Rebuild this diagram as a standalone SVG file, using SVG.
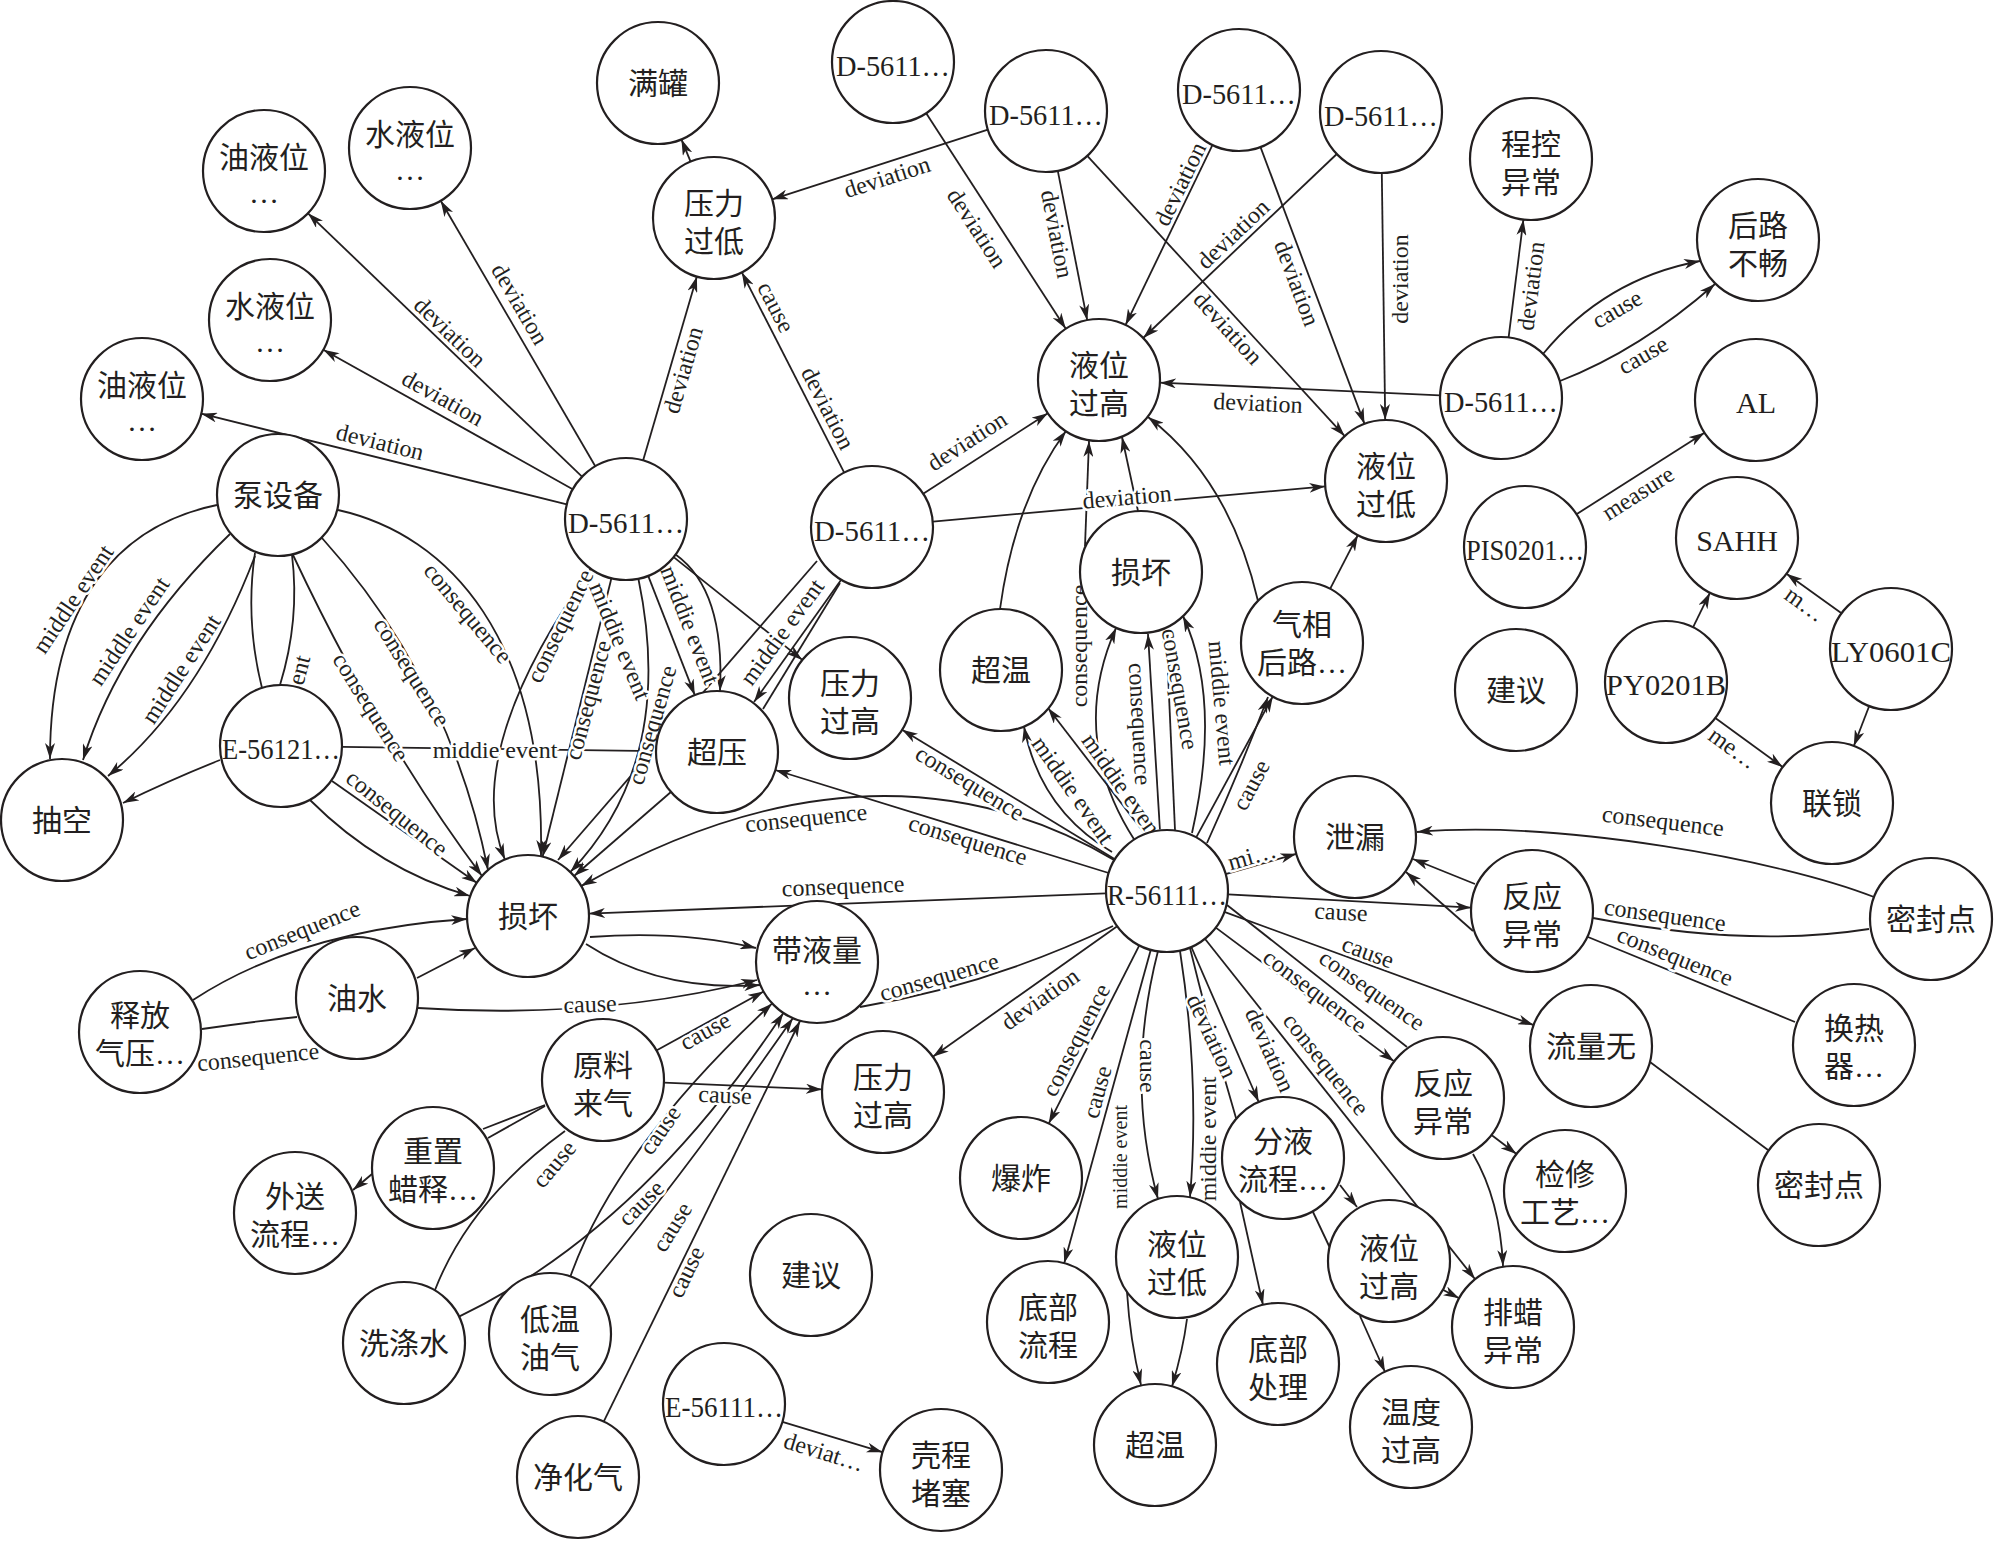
<svg xmlns="http://www.w3.org/2000/svg" width="1994" height="1541" viewBox="0 0 1994 1541">
<style>
.n circle{fill:#fff;stroke:#231f20;stroke-width:2.2}
.n text{font-family:"Liberation Serif","Noto Sans CJK SC",serif;font-size:30px;fill:#231f20;text-anchor:middle;dominant-baseline:central}
#edges path{fill:none;stroke:#231f20;stroke-width:1.8}
#edges path.a{marker-end:url(#arr)}
#labels text{font-family:"Liberation Serif",serif;font-size:24px;fill:#231f20;text-anchor:middle;dominant-baseline:central;stroke:#fff;stroke-width:5px;paint-order:stroke;stroke-linejoin:round}
#labels text.s{font-size:20px}
</style>
<defs>
<marker id="arr" viewBox="0 0 16 10" refX="16" refY="5" markerWidth="16" markerHeight="10" orient="auto" markerUnits="userSpaceOnUse"><path d="M0,0 L16,5 L0,10 L4.5,5 Z" fill="#231f20"/></marker>
</defs>
<rect width="1994" height="1541" fill="#fff"/>
<g id="edges">
<path class="a" d="M582,476.7 L308,213.3"/>
<path class="a" d="M595.3,466.3 L440.7,200.7"/>
<path class="a" d="M572.7,489.2 L323.3,349.8"/>
<path class="a" d="M566.8,504.3 L201.2,413.7"/>
<path class="a" d="M643.1,460.5 L696.9,276.5"/>
<path class="a" d="M673.7,557.1 L802.3,659.9"/>
<path class="a" d="M648.2,575.8 L694.8,695.2"/>
<path class="a" d="M675.6,554.6 Q725,590 720,691.1"/>
<path class="a" d="M590.7,568.8 Q461,752 504.9,859.6"/>
<path class="a" d="M611.4,578.2 L542.6,856.8"/>
<path class="a" d="M638.4,578.7 Q676.5,761.5 570.3,872"/>
<path class="a" d="M817,561 L558,860"/>
<path class="a" d="M841,580 L754,702"/>
<path d="M763,709 L840,583"/>
<path class="a" d="M844.2,472.7 L741.8,272.3"/>
<path class="a" d="M923.2,493.8 L1047.8,413.2"/>
<path class="a" d="M932.8,521.6 L1325.2,486.4"/>
<path class="a" d="M670.9,792 L574.1,876"/>
<path class="a" d="M342,746.8 L656,751.2"/>
<path class="a" d="M217,505 C120,525 50,600 50,759"/>
<path class="a" d="M230,534 Q120,640 83,760"/>
<path class="a" d="M255,556 Q200,700 108,776"/>
<path class="a" d="M220,760 Q170,780 123,803"/>
<path d="M255,553 Q245,620 262,688"/>
<path d="M292,555 Q300,620 280,685"/>
<path class="a" d="M338,510 C450,535 545,640 541,856"/>
<path class="a" d="M322,538 Q450,680 488,870"/>
<path class="a" d="M293,555 Q380,740 482,876"/>
<path class="a" d="M332,781 L477,883"/>
<path class="a" d="M310,800 Q380,870 470,896"/>
<path class="a" d="M193,1000 Q300,930 467,919"/>
<path d="M202,1029 Q250,1022 297,1017"/>
<path class="a" d="M417,978 L475,948"/>
<path class="a" d="M418,1008 Q600,1020 757,980"/>
<path class="a" d="M590,937 Q680,930 756,948"/>
<path class="a" d="M586,944 Q660,992 760,985"/>
<path class="a" d="M1106,893.4 L589,913.6"/>
<path class="a" d="M1114.4,860.1 Q876,720 581.1,886.1"/>
<path class="a" d="M1108.7,873 L775.3,770"/>
<path class="a" d="M1114.9,859.3 L902.1,729.7"/>
<path d="M1113,926 Q990,985 860,1007"/>
<path class="a" d="M1117.2,926.3 L932.8,1056.7"/>
<path class="a" d="M1139.3,945.4 L1048.7,1123.6"/>
<path class="a" d="M1150.8,949.8 L1064.2,1263.2"/>
<path class="a" d="M1158,951 Q1125,1080 1158,1199"/>
<path class="a" d="M1180,951 Q1200,1080 1190,1197"/>
<path d="M1190,948 Q1210,1030 1236,1118"/>
<path class="a" d="M1191.3,947 L1258.7,1102"/>
<path class="a" d="M1215.8,927.6 L1394.2,1061.4"/>
<path d="M1227,905 L1407,1047"/>
<path class="a" d="M1204.9,938.8 L1475.1,1279.2"/>
<path class="a" d="M1224.3,911.9 L1533.7,1025.1"/>
<path class="a" d="M1227.9,894.3 L1471.1,907.7"/>
<path class="a" d="M1225.6,874.2 L1296.4,853.8"/>
<path class="a" d="M1196.2,837.4 L1272.8,696.4"/>
<path class="a" d="M1207,843 Q1240,770 1268,697"/>
<path class="a" d="M1330.1,588.9 L1357.9,535.1"/>
<path class="a" d="M1134.2,839.6 Q1068,736 1116.2,627.7"/>
<path class="a" d="M1160,831 L1148,634"/>
<path class="a" d="M1175,830 L1166,628"/>
<path class="a" d="M1192,833 Q1222,700 1183,616"/>
<path class="a" d="M1112,852 Q1040,810 1024,726.5"/>
<path class="a" d="M1145,834 L1048,708"/>
<path class="a" d="M1000,609 Q1015,500 1066,431"/>
<path class="a" d="M1085,546 L1089,441"/>
<path class="a" d="M1138,511 L1122,437"/>
<path class="a" d="M1258,601 Q1230,480 1148,417"/>
<path class="a" d="M926.2,113.2 L1065.8,328.8"/>
<path class="a" d="M987.9,129.7 L772.1,199.3"/>
<path class="a" d="M1057.8,170.8 L1087.2,320.2"/>
<path class="a" d="M1087.3,155.9 L1344.7,436.1"/>
<path class="a" d="M1212.5,144.9 L1125.5,325.1"/>
<path class="a" d="M1260.5,147.1 L1364.5,423.9"/>
<path class="a" d="M1336.8,154 L1143.2,338"/>
<path class="a" d="M1381.8,173 L1385.2,420"/>
<path class="a" d="M1440,395.3 L1160,382.7"/>
<path class="a" d="M1508.6,337.5 L1523.4,219.5"/>
<path class="a" d="M1543,354 Q1604.5,279 1700,261"/>
<path class="a" d="M1560,381 Q1640,350 1715,284"/>
<path class="a" d="M1576.5,514.2 L1704.5,432.8"/>
<path class="a" d="M1693,627.3 L1710,592.7"/>
<path class="a" d="M1841.5,613.3 L1786.5,573.7"/>
<path class="a" d="M1869.2,706 L1853.8,746"/>
<path class="a" d="M1715.3,717.9 L1782.7,767.1"/>
<path class="a" d="M1874,897 C1780,860 1560,820 1417,832"/>
<path class="a" d="M1475,884 L1413,859"/>
<path class="a" d="M1473,931 L1406,872"/>
<path d="M1593,918 Q1749,948 1869,929"/>
<path d="M1588,937 L1795,1022"/>
<path d="M1650,1062 L1768,1150"/>
<path class="a" d="M1491.5,1135 L1516.5,1154"/>
<path class="a" d="M1473,1154 Q1500,1200 1503,1266"/>
<path class="a" d="M1442.8,1289.7 L1459.2,1298.3"/>
<path class="a" d="M1360,1316 L1385,1372"/>
<path class="a" d="M1340,1185 L1357,1207"/>
<path d="M1313,1212 L1330,1248"/>
<path class="a" d="M1240,1202 L1263,1305"/>
<path class="a" d="M1127,1292 Q1130,1340 1141,1385"/>
<path class="a" d="M1187,1319 Q1183,1350 1172,1386.5"/>
<path class="a" d="M656.4,1050.5 L763.6,991.5"/>
<path class="a" d="M664,1082.6 L822,1089.4"/>
<path d="M483,1129 L545,1105"/>
<path d="M488,1138 L545,1106"/>
<path class="a" d="M372,1174 L353,1190"/>
<path d="M435,1290 Q470,1200 565,1131"/>
<path class="a" d="M459,1316.6 Q640,1230 783.4,1012.9"/>
<path class="a" d="M570.4,1276.5 Q616,1148 772.2,1003.4"/>
<path class="a" d="M589.3,1287.4 Q680,1180 793,1018"/>
<path class="a" d="M603.7,1421.7 L800,1021"/>
<path class="a" d="M782.4,1421.8 L882.6,1452.2"/>
<path class="a" d="M690.6,161.7 L681.4,139.3"/>
</g>
<g id="labels">
<text transform="translate(450,332) rotate(43.9)">deviation</text>
<text transform="translate(520,304) rotate(59.8)">deviation</text>
<text transform="translate(443,398) rotate(29.2)">deviation</text>
<text transform="translate(380,442) rotate(13.9)">deviation</text>
<text transform="translate(683,370) rotate(-73.7)">deviation</text>
<text transform="translate(690,625) rotate(68.7)">middie event</text>
<text transform="translate(560,626) rotate(-64)">consequence</text>
<text transform="translate(588,700) rotate(-75)">consequence</text>
<text transform="translate(620,641) rotate(67.5)">middie event</text>
<text transform="translate(652,725) rotate(-74)">consequence</text>
<text transform="translate(782,632) rotate(-54)">middie event</text>
<text transform="translate(776,307) rotate(62.9)">cause</text>
<text transform="translate(828,408) rotate(62.9)">deviation</text>
<text transform="translate(967,441) rotate(-32.9)">deviation</text>
<text transform="translate(1127,497) rotate(-5)">deviation</text>
<text transform="translate(495,750)">middie event</text>
<text transform="translate(73,599) rotate(-56)">middle event</text>
<text transform="translate(129,631) rotate(-56)">middle event</text>
<text transform="translate(181,669) rotate(-57)">middle event</text>
<text transform="translate(299,670) rotate(-75)">ent</text>
<text transform="translate(468,613) rotate(50)">consequence</text>
<text transform="translate(412,672) rotate(58)">consequence</text>
<text transform="translate(371,707) rotate(58)">consequence</text>
<text transform="translate(397,813) rotate(38.9)">consequence</text>
<text transform="translate(302,930) rotate(-22)">consequence</text>
<text transform="translate(258,1057) rotate(-6)">consequence</text>
<text transform="translate(590,1004) rotate(-2)">cause</text>
<text transform="translate(843,886) rotate(-2.3)">consequence</text>
<text transform="translate(806,818) rotate(-6)">consequence</text>
<text transform="translate(968,840) rotate(17.2)">consequence</text>
<text transform="translate(970,783) rotate(31.3)">consequence</text>
<text transform="translate(939,977) rotate(-16)">consequence</text>
<text transform="translate(1040,999) rotate(-35.3)">deviation</text>
<text transform="translate(1076,1040) rotate(-63)">consequence</text>
<text transform="translate(1097,1092) rotate(-74.6)">cause</text>
<text class="s" transform="translate(1120,1157) rotate(-90)">middie event</text>
<text transform="translate(1148,1066) rotate(90)">cause</text>
<text transform="translate(1208,1139) rotate(-90)">middie event</text>
<text transform="translate(1212,1036) rotate(65)">deviation</text>
<text transform="translate(1270,1050) rotate(66)">deviation</text>
<text transform="translate(1315,991) rotate(36.9)">consequence</text>
<text transform="translate(1372,990) rotate(35)">consequence</text>
<text transform="translate(1326,1064) rotate(51.6)">consequence</text>
<text transform="translate(1368,952) rotate(20.1)">cause</text>
<text transform="translate(1341,912) rotate(3.1)">cause</text>
<text transform="translate(1252,856) rotate(-16)">mi…</text>
<text transform="translate(1251,785) rotate(-62)">cause</text>
<text transform="translate(1079,646) rotate(-90)">consequence</text>
<text transform="translate(1140,724) rotate(87)">consequence</text>
<text transform="translate(1180,689) rotate(80)">consequence</text>
<text transform="translate(1222,703) rotate(85)">middie event</text>
<text transform="translate(1073,790) rotate(55)">middie event</text>
<text transform="translate(1123,787) rotate(55)">middie event</text>
<text transform="translate(977,228) rotate(57)">deviation</text>
<text transform="translate(887,177) rotate(-17.9)">deviation</text>
<text transform="translate(1057,234) rotate(79)">deviation</text>
<text transform="translate(1228,328) rotate(47.4)">deviation</text>
<text transform="translate(1180,184) rotate(-64.2)">deviation</text>
<text transform="translate(1297,283) rotate(69.4)">deviation</text>
<text transform="translate(1233,234) rotate(-43.5)">deviation</text>
<text transform="translate(1400,279) rotate(-90)">deviation</text>
<text transform="translate(1258,403) rotate(2.6)">deviation</text>
<text transform="translate(1531,286) rotate(-82.8)">deviation</text>
<text transform="translate(1617,309) rotate(-30)">cause</text>
<text transform="translate(1643,355) rotate(-30)">cause</text>
<text transform="translate(1638,493) rotate(-32.5)">measure</text>
<text transform="translate(1805,604) rotate(35.8)">m…</text>
<text transform="translate(1733,748) rotate(36)">me…</text>
<text transform="translate(1663,821) rotate(7)">consequence</text>
<text transform="translate(1665,915) rotate(8)">consequence</text>
<text transform="translate(1675,956) rotate(22)">consequence</text>
<text transform="translate(705,1031) rotate(-28.9)">cause</text>
<text transform="translate(725,1095) rotate(2.5)">cause</text>
<text transform="translate(554,1164) rotate(-50)">cause</text>
<text transform="translate(641,1203) rotate(-45)">cause</text>
<text transform="translate(660,1130) rotate(-55)">cause</text>
<text transform="translate(672,1227) rotate(-58)">cause</text>
<text transform="translate(686,1272) rotate(-64)">cause</text>
<text transform="translate(824,1452) rotate(17)">deviat…</text>
</g>
<g id="n-oil1" class="n" transform="translate(264,171)"><circle r="61"/><text y="-14">油液位</text><text y="21">…</text></g>
<g id="n-water1" class="n" transform="translate(410,148)"><circle r="61"/><text y="-14">水液位</text><text y="21">…</text></g>
<g id="n-water2" class="n" transform="translate(270,320)"><circle r="61"/><text y="-14">水液位</text><text y="21">…</text></g>
<g id="n-oil2" class="n" transform="translate(142,399)"><circle r="61"/><text y="-14">油液位</text><text y="21">…</text></g>
<g id="n-pump" class="n" transform="translate(278,495)"><circle r="61"/><text>泵设备</text></g>
<g id="n-full" class="n" transform="translate(658,83)"><circle r="61"/><text>满罐</text></g>
<g id="n-plow" class="n" transform="translate(714,218)"><circle r="61"/><text y="-15">压力</text><text y="23">过低</text></g>
<g id="n-d5611a" class="n" transform="translate(893,62)"><circle r="61"/><text y="3" textLength="114" lengthAdjust="spacingAndGlyphs">D-5611…</text></g>
<g id="n-d5611b" class="n" transform="translate(1046,111)"><circle r="61"/><text y="3" textLength="114" lengthAdjust="spacingAndGlyphs">D-5611…</text></g>
<g id="n-d5611c" class="n" transform="translate(1239,90)"><circle r="61"/><text y="3" textLength="114" lengthAdjust="spacingAndGlyphs">D-5611…</text></g>
<g id="n-d5611e" class="n" transform="translate(1381,112)"><circle r="61"/><text y="3" textLength="114" lengthAdjust="spacingAndGlyphs">D-5611…</text></g>
<g id="n-prog" class="n" transform="translate(1531,159)"><circle r="61"/><text y="-15">程控</text><text y="23">异常</text></g>
<g id="n-back" class="n" transform="translate(1758,240)"><circle r="61"/><text y="-15">后路</text><text y="23">不畅</text></g>
<g id="n-lh1" class="n" transform="translate(1099,380)"><circle r="61"/><text y="-15">液位</text><text y="23">过高</text></g>
<g id="n-d5611f" class="n" transform="translate(1501,398)"><circle r="61"/><text y="3" textLength="114" lengthAdjust="spacingAndGlyphs">D-5611…</text></g>
<g id="n-al" class="n" transform="translate(1756,400)"><circle r="61"/><text y="2">AL</text></g>
<g id="n-ll1" class="n" transform="translate(1386,481)"><circle r="61"/><text y="-15">液位</text><text y="23">过低</text></g>
<g id="n-d5611-1" class="n" transform="translate(626,519)"><circle r="61"/><text y="3" textLength="116" lengthAdjust="spacingAndGlyphs">D-5611…</text></g>
<g id="n-d5611-2" class="n" transform="translate(872,527)"><circle r="61"/><text y="3" textLength="116" lengthAdjust="spacingAndGlyphs">D-5611…</text></g>
<g id="n-pis" class="n" transform="translate(1525,547)"><circle r="61"/><text y="2" textLength="118" lengthAdjust="spacingAndGlyphs">PIS0201…</text></g>
<g id="n-sahh" class="n" transform="translate(1737,538)"><circle r="61"/><text y="2">SAHH</text></g>
<g id="n-dmg1" class="n" transform="translate(1141,572)"><circle r="61"/><text>损坏</text></g>
<g id="n-gas" class="n" transform="translate(1302,643)"><circle r="61"/><text y="-19">气相</text><text y="19">后路…</text></g>
<g id="n-ot1" class="n" transform="translate(1001,670)"><circle r="61"/><text>超温</text></g>
<g id="n-adv1" class="n" transform="translate(1516,690)"><circle r="61"/><text>建议</text></g>
<g id="n-py" class="n" transform="translate(1666,682)"><circle r="61"/><text y="2" textLength="120" lengthAdjust="spacingAndGlyphs">PY0201B</text></g>
<g id="n-ly" class="n" transform="translate(1891,649)"><circle r="61"/><text y="2" textLength="120" lengthAdjust="spacingAndGlyphs">LY0601C</text></g>
<g id="n-ph1" class="n" transform="translate(850,698)"><circle r="61"/><text y="-15">压力</text><text y="23">过高</text></g>
<g id="n-over" class="n" transform="translate(717,752)"><circle r="61"/><text>超压</text></g>
<g id="n-e56121" class="n" transform="translate(281,746)"><circle r="61"/><text y="2" textLength="118" lengthAdjust="spacingAndGlyphs">E-56121…</text></g>
<g id="n-empty" class="n" transform="translate(62,820)"><circle r="61"/><text>抽空</text></g>
<g id="n-lock" class="n" transform="translate(1832,803)"><circle r="61"/><text>联锁</text></g>
<g id="n-leak" class="n" transform="translate(1355,837)"><circle r="61"/><text>泄漏</text></g>
<g id="n-r56111" class="n" transform="translate(1167,891)"><circle r="61"/><text y="3" textLength="120" lengthAdjust="spacingAndGlyphs">R-56111…</text></g>
<g id="n-dmg2" class="n" transform="translate(528,916)"><circle r="61"/><text>损坏</text></g>
<g id="n-rx1" class="n" transform="translate(1532,911)"><circle r="61"/><text y="-15">反应</text><text y="23">异常</text></g>
<g id="n-seal1" class="n" transform="translate(1931,919)"><circle r="61"/><text>密封点</text></g>
<g id="n-liq" class="n" transform="translate(817,962)"><circle r="61"/><text y="-12">带液量</text><text y="22">…</text></g>
<g id="n-oilw" class="n" transform="translate(357,998)"><circle r="61"/><text>油水</text></g>
<g id="n-rel" class="n" transform="translate(140,1032)"><circle r="61"/><text y="-17">释放</text><text y="21">气压…</text></g>
<g id="n-flow" class="n" transform="translate(1591,1046)"><circle r="61"/><text>流量无</text></g>
<g id="n-hx" class="n" transform="translate(1854,1045)"><circle r="61"/><text y="-17">换热</text><text y="21">器…</text></g>
<g id="n-feed" class="n" transform="translate(603,1080)"><circle r="61"/><text y="-15">原料</text><text y="23">来气</text></g>
<g id="n-ph2" class="n" transform="translate(883,1092)"><circle r="61"/><text y="-15">压力</text><text y="23">过高</text></g>
<g id="n-rx2" class="n" transform="translate(1443,1098)"><circle r="61"/><text y="-15">反应</text><text y="23">异常</text></g>
<g id="n-sep" class="n" transform="translate(1283,1158)"><circle r="61"/><text y="-17">分液</text><text y="21">流程…</text></g>
<g id="n-exp" class="n" transform="translate(1021,1178)"><circle r="61"/><text>爆炸</text></g>
<g id="n-reset" class="n" transform="translate(433,1168)"><circle r="61"/><text y="-17">重置</text><text y="21">蜡释…</text></g>
<g id="n-out" class="n" transform="translate(295,1213)"><circle r="61"/><text y="-17">外送</text><text y="21">流程…</text></g>
<g id="n-maint" class="n" transform="translate(1565,1191)"><circle r="61"/><text y="-17">检修</text><text y="21">工艺…</text></g>
<g id="n-seal2" class="n" transform="translate(1819,1185)"><circle r="61"/><text>密封点</text></g>
<g id="n-ll2" class="n" transform="translate(1177,1257)"><circle r="61"/><text y="-13">液位</text><text y="25">过低</text></g>
<g id="n-lh2" class="n" transform="translate(1389,1261)"><circle r="61"/><text y="-13">液位</text><text y="25">过高</text></g>
<g id="n-adv2" class="n" transform="translate(811,1275)"><circle r="61"/><text>建议</text></g>
<g id="n-botf" class="n" transform="translate(1048,1322)"><circle r="61"/><text y="-15">底部</text><text y="23">流程</text></g>
<g id="n-wax" class="n" transform="translate(1513,1327)"><circle r="61"/><text y="-15">排蜡</text><text y="23">异常</text></g>
<g id="n-lowt" class="n" transform="translate(550,1334)"><circle r="61"/><text y="-15">低温</text><text y="23">油气</text></g>
<g id="n-wash" class="n" transform="translate(404,1343)"><circle r="61"/><text>洗涤水</text></g>
<g id="n-botp" class="n" transform="translate(1278,1364)"><circle r="61"/><text y="-15">底部</text><text y="23">处理</text></g>
<g id="n-e56111" class="n" transform="translate(724,1404)"><circle r="61"/><text y="2" textLength="118" lengthAdjust="spacingAndGlyphs">E-56111…</text></g>
<g id="n-temp" class="n" transform="translate(1411,1427)"><circle r="61"/><text y="-15">温度</text><text y="23">过高</text></g>
<g id="n-ot2" class="n" transform="translate(1155,1445)"><circle r="61"/><text>超温</text></g>
<g id="n-shell" class="n" transform="translate(941,1470)"><circle r="61"/><text y="-15">壳程</text><text y="23">堵塞</text></g>
<g id="n-pure" class="n" transform="translate(578,1477)"><circle r="61"/><text>净化气</text></g>
</svg>
